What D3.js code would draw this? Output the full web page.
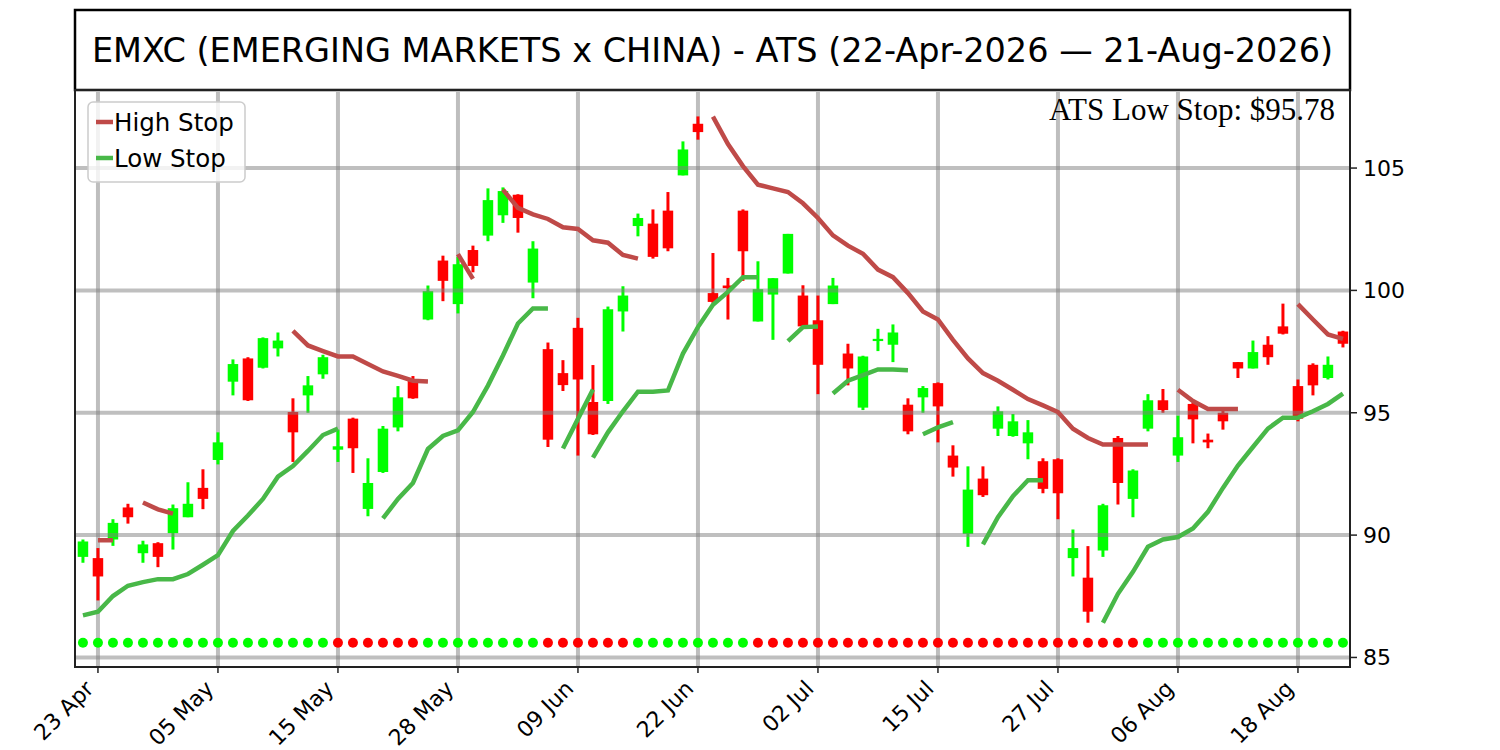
<!DOCTYPE html>
<html>
<head>
<meta charset="utf-8">
<script src="https://cdn.jsdelivr.net/npm/d3@7"></script>
<style>
  body { margin: 0; background: #fff; }
  text { font-family: "DejaVu Sans", sans-serif; }
</style>
</head>
<body>
<div id="chart"></div>
<script>
// OHLC, one entry per trading day (22 Apr 2026 .. 21 Aug 2026)
var opens  = [89.11,89.06,89.82,91.13,89.26,89.67,90.08,90.73,91.93,93.07,96.27,97.22,96.84,97.63,95.03,95.71,96.57,93.49,94.76,91.07,
              92.58,94.40,96.31,98.81,101.22,99.44,101.65,102.24,103.07,103.91,100.32,97.60,96.62,98.47,95.44,95.48,99.14,102.63,102.73,103.26,
              104.70,106.81,99.89,100.20,103.26,98.73,99.83,100.69,99.79,98.78,99.44,97.42,95.21,97.93,97.78,95.33,95.63,96.21,93.25,90.05,
              92.31,94.35,94.05,93.75,93.02,93.10,89.06,88.26,89.37,93.97,91.48,94.35,95.51,93.25,95.36,93.90,95.00,97.07,96.81,97.78,
              98.53,96.09,96.96,96.42,98.32];
var highs  = [89.82,89.47,90.65,91.28,89.77,89.71,91.25,92.16,92.69,94.20,97.18,97.27,98.08,98.28,95.59,96.50,97.37,94.31,94.80,93.14,
              94.46,96.09,96.50,100.20,101.42,101.37,101.83,104.17,104.21,103.93,102.01,97.87,97.15,98.88,96.95,99.34,100.17,103.14,103.31,104.02,
              106.09,107.11,101.53,100.51,103.31,101.19,100.50,102.31,100.21,99.79,100.51,97.82,97.33,98.43,98.61,95.59,96.09,96.24,93.67,92.81,
              92.81,95.26,94.95,94.70,93.14,93.14,90.23,89.55,91.28,94.05,92.69,95.76,95.97,94.88,95.41,94.15,95.21,97.07,97.95,98.13,
              99.46,96.36,97.02,97.30,98.35];
var lows   = [88.87,87.33,89.56,90.47,88.87,88.69,89.41,90.73,91.06,92.89,95.71,95.48,96.81,97.30,92.99,95.00,96.39,92.99,92.54,90.77,
              92.54,94.24,95.57,98.78,99.56,99.06,100.74,102.01,102.76,102.36,99.68,93.60,95.89,93.25,94.09,95.36,98.32,102.21,101.30,101.60,
              104.70,106.16,99.49,98.81,100.39,98.73,97.98,100.69,98.50,95.76,99.44,96.12,95.11,97.52,97.07,94.12,95.00,93.79,92.39,89.52,
              91.56,94.05,94.02,93.10,91.71,90.65,88.31,86.42,89.11,91.25,90.73,94.24,95.00,92.99,93.75,93.55,94.31,96.42,96.81,96.96,
              98.20,94.65,95.71,96.36,97.67];
var closes = [89.74,88.31,90.50,90.73,89.62,89.11,91.10,91.28,91.48,93.79,96.99,95.51,98.05,97.95,94.20,96.12,97.27,93.63,93.55,92.13,
              94.35,95.63,95.59,99.97,100.39,101.07,101.00,103.69,104.06,102.96,101.71,93.90,96.13,96.36,94.12,99.23,99.79,102.96,101.37,101.72,
              105.76,106.47,99.53,100.09,101.60,100.05,100.50,102.31,98.53,96.96,100.20,96.81,97.30,98.02,98.28,94.24,96.01,95.26,92.76,91.86,
              91.63,95.06,94.65,94.20,91.89,91.71,89.47,86.87,91.22,92.13,92.64,95.51,95.11,94.00,94.73,93.79,94.65,96.81,97.48,97.27,
              98.23,94.76,96.12,96.96,97.82];

// stop lines, broken into pieces: first day index + values
var highStop = [
  { from: 1,  values: [89.79,89.79] },
  { from: 4,  values: [91.33,91.05,90.88] },
  { from: 14, values: [98.35,97.75,97.52,97.30,97.30,96.99,96.69,96.51,96.31,96.28] },
  { from: 25, values: [101.48,100.47] },
  { from: 28, values: [104.12,103.37,103.11,102.92,102.58,102.51,102.05,101.95,101.45,101.30] },
  { from: 42, values: [107.10,105.98,105.08,104.32,104.17,104.02,103.56,102.96,102.25,101.83,101.50,100.85,100.54,99.89,99.14,
                       98.81,97.98,97.22,96.62,96.31,95.94,95.56,95.30,95.03,94.35,93.97,93.70,93.70,93.70,93.70] },
  { from: 73, values: [95.94,95.48,95.15,95.15,95.15] },
  { from: 81, values: [99.44,98.81,98.20,98.02] }
];
var lowStop = [
  { from: 0,  values: [86.72,86.87,87.51,87.93,88.08,88.20,88.20,88.41,88.79,89.18,90.17,90.80,91.48,92.39,92.82,93.44,94.09,94.35] },
  { from: 20, values: [90.68,91.48,92.13,93.52,94.05,94.28,95.03,96.11,97.34,98.65,99.26,99.26] },
  { from: 32, values: [93.54,94.75,95.95] },
  { from: 34, values: [93.17,94.20,95.06,95.86,95.86,95.91,97.42,98.50,99.41,99.94,100.54,100.54] },
  { from: 47, values: [97.93,98.50,98.53] },
  { from: 50, values: [95.79,96.31,96.54,96.77,96.77,96.74] },
  { from: 56, values: [94.12,94.40,94.62] },
  { from: 60, values: [89.62,90.73,91.59,92.24,92.24] },
  { from: 68, values: [86.42,87.60,88.50,89.52,89.82,89.92,90.27,90.95,91.93,92.84,93.60,94.35,94.80,94.80,95.06,95.36,95.78] }
];

// trend state dots: 1 = up (green), 0 = down (red)
var trend = [1,1,1,1,1,1,1,1,1,1,1,1,1,1,1,1,1,0,0,0,0,0,0,1,1,1,1,1,1,1,1,0,0,0,0,0,0,1,1,1,
             1,1,1,1,1,0,0,0,0,0,0,0,0,0,0,0,0,0,0,0,0,0,0,0,0,0,0,0,0,0,0,1,1,1,1,1,1,1,1,1,
             1,1,1,1,1];
var dotLevel = 85.6;

var tickIdx    = [1, 9, 17, 25, 33, 41, 49, 57, 65, 73, 81];
var tickLabels = ["23 Apr","05 May","15 May","28 May","09 Jun","22 Jun","02 Jul","15 Jul","27 Jul","06 Aug","18 Aug"];
var yTicks     = [85, 90, 95, 100, 105];

var title = "EMXC (EMERGING MARKETS x CHINA) - ATS (22-Apr-2026 \u2014 21-Aug-2026)";

var W = 1500, H = 750;
var pLeft = 75, pRight = 1350, pTop = 90, pBottom = 667;
var UP = "#00ff00", DOWN = "#ff0000";

var svg = d3.select("#chart").append("svg")
  .attr("width", W).attr("height", H)
  .attr("viewBox", [0, 0, W, H]);

var x = d3.scaleLinear().domain([-0.53, opens.length - 0.53]).range([pLeft, pRight]);
var y = d3.scaleLinear().domain([84.61, 108.19]).range([pBottom, pTop]);
var step = x(1) - x(0);

// title box
svg.append("rect")
  .attr("x", pLeft).attr("y", 10).attr("width", pRight - pLeft).attr("height", pTop - 10)
  .attr("fill", "none").attr("stroke", "#000").attr("stroke-width", 2.5);
svg.append("text")
  .attr("x", (pLeft + pRight) / 2).attr("y", 62)
  .attr("text-anchor", "middle")
  .style("font-size", "33.5px")
  .text(title);

var plot = svg.append("g");

// vertical grid (under candles)
plot.selectAll(".vgrid")
  .data(tickIdx)
  .join("line")
  .attr("class", "vgrid")
  .attr("x1", d => x(d)).attr("x2", d => x(d))
  .attr("y1", pTop).attr("y2", pBottom)
  .attr("stroke", "#bebebe").attr("stroke-width", 4);

var candles = d3.range(opens.length).map(i => ({
  i: i, o: opens[i], h: highs[i], l: lows[i], c: closes[i]
}));

plot.selectAll(".wick")
  .data(candles)
  .join("line")
  .attr("class", "wick")
  .attr("x1", d => x(d.i)).attr("x2", d => x(d.i))
  .attr("y1", d => y(d.h)).attr("y2", d => y(d.l))
  .attr("stroke", d => d.c >= d.o ? UP : DOWN)
  .attr("stroke-width", 3);

plot.selectAll(".body")
  .data(candles)
  .join("rect")
  .attr("class", "body")
  .attr("x", d => x(d.i) - step * 0.35)
  .attr("width", step * 0.7)
  .attr("y", d => y(Math.max(d.o, d.c)))
  .attr("height", d => Math.max(1.5, Math.abs(y(d.o) - y(d.c))))
  .attr("fill", d => d.c >= d.o ? UP : DOWN);

// horizontal grid (drawn over the candles, semi transparent)
plot.selectAll(".hgrid")
  .data(yTicks)
  .join("line")
  .attr("class", "hgrid")
  .attr("x1", pLeft).attr("x2", pRight)
  .attr("y1", d => y(d)).attr("y2", d => y(d))
  .attr("stroke", "#808080").attr("stroke-opacity", 0.5).attr("stroke-width", 4);

var line = d3.line().x(d => x(d[0])).y(d => y(d[1]));
function pts(seg) { return seg.values.map((v, k) => [seg.from + k, v]); }

plot.selectAll(".hstop")
  .data(highStop)
  .join("path")
  .attr("class", "hstop")
  .attr("d", d => line(pts(d)))
  .attr("fill", "none").attr("stroke", "#bf4a48").attr("stroke-width", 4.5);

plot.selectAll(".lstop")
  .data(lowStop)
  .join("path")
  .attr("class", "lstop")
  .attr("d", d => line(pts(d)))
  .attr("fill", "none").attr("stroke", "#48b848").attr("stroke-width", 4.5);

plot.selectAll(".dot")
  .data(trend)
  .join("circle")
  .attr("class", "dot")
  .attr("cx", (d, i) => x(i))
  .attr("cy", y(dotLevel))
  .attr("r", 5)
  .attr("fill", d => d ? UP : DOWN);

// frame
svg.append("rect")
  .attr("x", pLeft).attr("y", pTop).attr("width", pRight - pLeft).attr("height", pBottom - pTop)
  .attr("fill", "none").attr("stroke", "#222").attr("stroke-width", 2);

// right y axis
var yAxis = svg.append("g");
yAxis.selectAll("line")
  .data(yTicks)
  .join("line")
  .attr("x1", pRight).attr("x2", pRight + 7)
  .attr("y1", d => y(d)).attr("y2", d => y(d))
  .attr("stroke", "#222").attr("stroke-width", 1.5);
yAxis.selectAll("text")
  .data(yTicks)
  .join("text")
  .attr("x", pRight + 13)
  .attr("y", d => y(d))
  .attr("dy", "0.36em")
  .style("font-size", "22px")
  .text(d => d);

// bottom x axis
var xAxis = svg.append("g");
xAxis.selectAll("line")
  .data(tickIdx)
  .join("line")
  .attr("x1", d => x(d)).attr("x2", d => x(d))
  .attr("y1", pBottom).attr("y2", pBottom + 6)
  .attr("stroke", "#222").attr("stroke-width", 1.5);
xAxis.selectAll("text")
  .data(tickIdx)
  .join("text")
  .attr("transform", d => "translate(" + (x(d) - 3) + "," + (pBottom + 23) + ") rotate(-45)")
  .attr("text-anchor", "end")
  .style("font-size", "22px")
  .text((d, k) => tickLabels[k]);

// legend
var lg = svg.append("g");
lg.append("rect")
  .attr("x", 88).attr("y", 102).attr("width", 157).attr("height", 80).attr("rx", 5)
  .attr("fill", "#fff").attr("fill-opacity", 0.8)
  .attr("stroke", "#cccccc").attr("stroke-width", 1.5);
[["High Stop", "#bf4a48"], ["Low Stop", "#48b848"]].forEach(function(e, k) {
  var yy = 122 + k * 36;
  lg.append("line").attr("x1", 96).attr("x2", 113).attr("y1", yy).attr("y2", yy)
    .attr("stroke", e[1]).attr("stroke-width", 4.5);
  lg.append("text").attr("x", 114).attr("y", yy + 9)
    .style("font-size", "24.5px").text(e[0]);
});

// last low stop annotation
var lastSeg = lowStop[lowStop.length - 1];
var lastLow = lastSeg.values[lastSeg.values.length - 1];
svg.append("text")
  .attr("x", 1335).attr("y", 120)
  .attr("text-anchor", "end")
  .style("font-family", "'Liberation Serif', 'Times New Roman', serif")
  .style("font-size", "31px")
  .text("ATS Low Stop: $" + lastLow.toFixed(2));
</script>
</body>
</html>
